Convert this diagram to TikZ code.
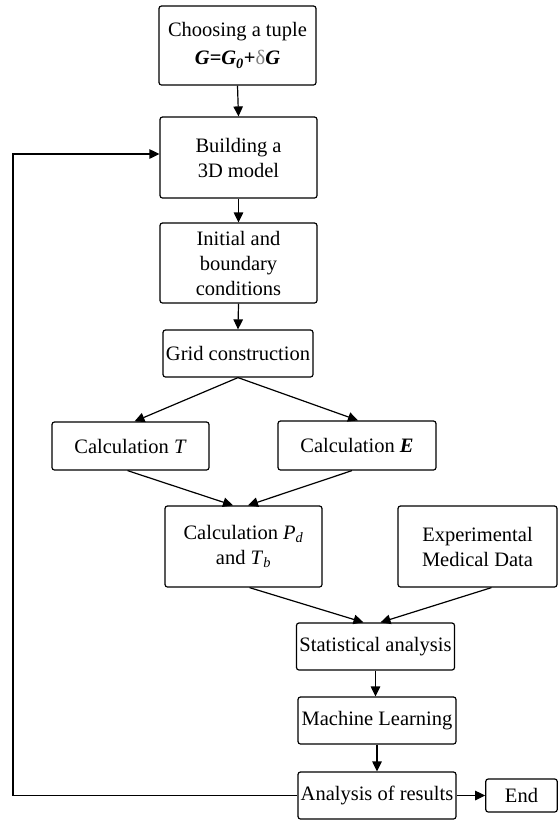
\documentclass[tikz,border=0pt]{standalone}
\usepackage{fontspec}
\setmainfont{Liberation Serif}
\usetikzlibrary{arrows.meta}
\begin{document}
\begin{tikzpicture}[x=1pt,y=-1pt,
  box/.style={draw=black, line width=1.2pt, rounded corners=2.5pt, align=center,
    inner sep=0pt, font=\fontsize{20.5}{25}\selectfont},
  arr/.style={draw=black, line width=1.2pt, -{Triangle[length=10pt,width=9.5pt]}}]
\useasboundingbox (0,0) rectangle (558,823);
\node[box, minimum width=157, minimum height=79] (c1) at (237.5,45.5)
  {Choosing a tuple\\[3pt] \textbf{\textit{G}=\textit{G}\textsubscript{\textit{0}}+}{\color{gray}δ}\textbf{\textit{G}}};
\node[box, minimum width=157, minimum height=81] (c2) at (238.5,157.5) {Building a\\3D model};
\node[box, minimum width=157, minimum height=80] (c3) at (238.5,263) {Initial and\\boundary\\conditions};
\node[box, minimum width=150, minimum height=47] (c4) at (238,353.5) {Grid construction};
\node[box, minimum width=157, minimum height=48] (c5) at (130.5,446) {Calculation \textit{T}};
\node[box, minimum width=158, minimum height=49] (c6) at (357,445.5) {Calculation \textbf{\textit{E}}};
\node[box, minimum width=157, minimum height=81] (c7) at (243.5,546.5) {Calculation \textit{P}\textsubscript{\textit{d}}\\and \textit{T}\textsubscript{\textit{b}}};
\node[box, minimum width=159, minimum height=81] (c8) at (477.5,546.5) {Experimental\\Medical Data};
\node[box, minimum width=158, minimum height=47] (c9) at (375.5,646.5) {Statistical analysis};
\node[box, minimum width=158, minimum height=47] (c10) at (377,720.5) {Machine Learning};
\node[box, minimum width=158, minimum height=47] (c11) at (377,795.5) {Analysis of results};
\node[box, minimum width=71.5, minimum height=33] (c12) at (521.5,795.5) {End};
\coordinate (fb) at (13,795.5);
\draw[arr] (c1.south) -- (c2.north);
\draw[arr] (c2.south) -- (c3.north);
\draw[arr] (c3.south) -- (c4.north);
\draw[arr] (c4.south) -- ([xshift=4pt]c5.north);
\draw[arr] (c4.south) -- ([xshift=1pt]c6.north);
\draw[arr] ([xshift=-3pt]c5.south) -- ([xshift=-10.5pt]c7.north);
\draw[arr] ([xshift=-5pt]c6.south) -- ([xshift=4.5pt]c7.north);
\draw[arr] ([xshift=6pt]c7.south) -- ([xshift=-12pt]c9.north);
\draw[arr] ([xshift=14pt]c8.south) -- ([xshift=5pt]c9.north);
\draw[arr] (c9.south) -- (c9.south |- c10.north);
\draw[arr] (c10.south) -- (c11.north);
\draw[arr] (c11.east) -- (c12.west);
\draw[arr] (c11.west) -- (fb) |- ([yshift=3.5pt]c2.west);
\end{tikzpicture}
\end{document}
